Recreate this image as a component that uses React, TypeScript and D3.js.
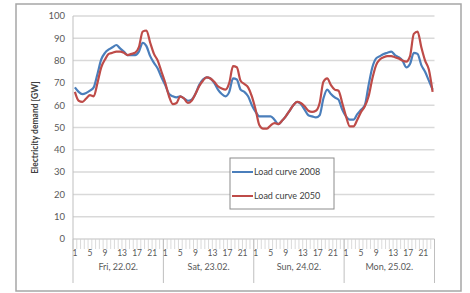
import React from 'react';
import * as d3 from 'd3';

// hourly load, 4 days x 24 h (Fri 22.02. – Mon 25.02.)
const load2008 = [
  68, 66, 65, 65.5, 66.5, 68, 74, 80.5, 83.5, 85, 86, 87, 85.5, 84, 82.5, 82.5, 82.5, 84, 88, 86.5, 82, 79, 76.5, 72.5,
  69, 65, 64, 63.5, 64, 63, 62, 62.5, 65, 69, 71.5, 72.5, 72, 70, 67, 65, 64, 66, 72, 71.5, 67, 66, 64, 60,
  57, 55, 55, 55, 55, 53.5, 51.5, 53, 55, 57.5, 60, 61.5, 60.5, 58, 55.5, 55, 54.5, 55.5, 63, 67, 65, 63.5, 62.5, 58,
  55, 53.5, 53.5, 56, 58, 60, 69, 77, 81, 82, 83, 83.5, 84, 82.5, 81.5, 80, 77, 78.5, 83.5, 83, 78, 75, 71, 67,
];
const load2050 = [
  66, 62, 61.5, 63, 64.5, 64, 70, 77, 80.5, 83, 83.5, 84, 84, 83.5, 82.5, 83, 83.5, 86, 93, 93.5, 88, 83, 80, 75,
  70, 64, 60.5, 61, 64, 63, 61, 62, 65, 68.5, 71, 72.5, 72, 70.5, 68.5, 67.5, 67, 70, 77.5, 77, 71, 69.5, 68, 64,
  58, 51, 49.5, 49.5, 51, 52, 51.5, 53, 55, 57.5, 60, 61.5, 61, 59.5, 57.5, 57, 57.5, 61, 70.5, 72, 69, 67, 66.5, 61,
  55, 50.5, 50.5, 53.5, 57, 59.5, 64, 72, 78, 80.5, 81.5, 82, 82, 81.5, 81, 80, 79.5, 82, 92, 93, 86, 80, 76, 66,
];
const days = ['Fri, 22.02.', 'Sat, 23.02.', 'Sun, 24.02.', 'Mon, 25.02.'];
const hourLabels = [1, 5, 9, 13, 17, 21];
const yTicks = [0, 10, 20, 30, 40, 50, 60, 70, 80, 90, 100];
const seriesNames = ['Load curve 2008', 'Load curve 2050'];

const font = 'Lato, "Open Sans", sans-serif';
const labelColor = '#595959';

export default function App() {
  const width = 470, height = 293;
  const left = 73, right = 434.5, top = 16, bottom = 239;

  const idx = d3.range(days.length * 24);
  const x = d3.scaleBand<number>().domain(idx).range([left, right]);
  const y = d3.scaleLinear().domain([0, 100]).range([bottom, top]);
  const dayScale = d3.scaleBand<string>().domain(days).range([left, right]);

  const line = d3.line<number>()
    .x((_, i) => x(i)! + x.bandwidth() / 2)
    .y(d => y(d))
    .curve(d3.curveMonotoneX);

  const series = [
    { name: seriesNames[0], values: load2008, color: '#4a7ebb' },
    { name: seriesNames[1], values: load2050, color: '#be4b48' },
  ];

  return (
    <svg width={width} height={height} style={{ position: 'absolute', left: 0, top: 0, background: '#fff' }}>
      <rect x={16} y={4} width={445} height={287} fill="#fff" stroke="#a6a6a6" strokeWidth={1.5} />

      {/* grid */}
      {yTicks.slice(1).map(t => (
        <line key={t} x1={left} x2={right} y1={y(t)} y2={y(t)} stroke="#d9d9d9" strokeWidth={1.5} />
      ))}
      <line x1={left} x2={left} y1={top} y2={bottom} stroke="#bfbfbf" />
      <line x1={left} x2={right} y1={bottom} y2={bottom} stroke="#bfbfbf" />

      {/* y labels */}
      {yTicks.map(t => (
        <text key={t} x={left - 8} y={y(t)} dy="0.35em" textAnchor="end" fontSize={9.5}
          fontFamily={font} fill={labelColor}>{t}</text>
      ))}
      <text transform={`translate(38,${(top + bottom) / 2}) rotate(-90)`} textAnchor="middle"
        fontSize={8.5} fontWeight="bold" fontFamily={font} fill="#404040">Electricity demand [GW]</text>

      {/* hour ticks */}
      {idx.map(i => (
        <line key={i} x1={x(i)!} x2={x(i)!} y1={bottom} y2={bottom + 10} stroke="#d0d0d0" strokeWidth={0.8} />
      ))}
      {days.map((d, k) => (
        <g key={d}>
          <line x1={dayScale(d)!} x2={dayScale(d)!} y1={bottom} y2={283} stroke="#bfbfbf" />
          {hourLabels.map(h => (
            <text key={h} x={x(k * 24 + h - 1)! + x.bandwidth() / 2 + (h > 9 ? 2 : 0)} y={256} textAnchor="middle"
              fontSize={8.5} fontFamily={font} fill={labelColor}>{h}</text>
          ))}
          <text x={dayScale(d)! + dayScale.bandwidth() / 2} y={270} textAnchor="middle" fontSize={9}
            fontFamily={font} fill={labelColor}>{d}</text>
        </g>
      ))}
      <line x1={right} x2={right} y1={bottom} y2={283} stroke="#bfbfbf" />

      {/* series */}
      {series.map(s => (
        <path key={s.name} d={line(s.values)!} fill="none" stroke={s.color} strokeWidth={2.2}
          strokeLinejoin="round" />
      ))}

      {/* legend */}
      <rect x={230} y={158} width={104} height={51} fill="#fff" stroke="#8c8c8c" />
      {series.map((s, i) => (
        <g key={s.name} transform={`translate(232,${172 + i * 24})`}>
          <line x1={0} x2={21} y1={0} y2={0} stroke={s.color} strokeWidth={2} />
          <text x={22} y={0} dy="0.35em" fontSize={9} fontFamily={font} fill="#404040">{s.name}</text>
        </g>
      ))}
    </svg>
  );
}
